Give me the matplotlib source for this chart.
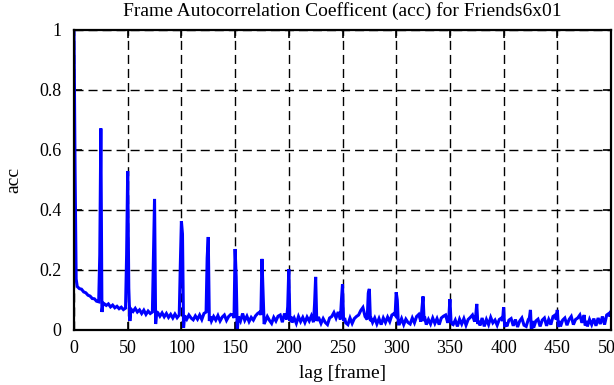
import matplotlib
matplotlib.use("Agg")
import matplotlib.pyplot as plt
from matplotlib.ticker import FuncFormatter

# ---- data ----
start_lags = [0, 1, 2]
start_acc = [1.0, 0.53, 0.17]

peak_lags = [25, 50, 75, 100, 125, 150, 175, 200, 225, 250,
             275, 300, 325, 350, 375, 400, 425, 450, 475]
peak_acc = [0.672, 0.53, 0.437, 0.363, 0.31, 0.27, 0.237, 0.203, 0.177, 0.153,
            0.137, 0.126, 0.112, 0.103, 0.087, 0.076, 0.067, 0.067, 0.05]
pre_acc = [0.25, 0.25, 0.255, 0.217, 0.24, 0.04, 0.05, 0.078, 0.087, 0.098,
           0.123, 0.05, 0.073, 0.04, 0.045, 0.03, 0.04, 0.035, 0.035]
post_acc = [0.06, 0.14, 0.02, 0.32, 0.03, 0.178, 0.128, 0.03, 0.03, 0.03,
            0.03, 0.1, 0.03, 0.03, 0.02, 0.01, -0.015, 0.01, 0.015]
post2_acc = [0.09, 0.03, 0.06, 0.007, 0.045, -0.005, 0.02, 0.045, 0.04, 0.04,
             0.035, 0.02, 0.035, 0.02, 0.03, 0.025, 0.03, 0.03, 0.03]

end_lags = [499, 500]
end_acc = [0.045, 0.061]

# baseline, every 2 frames from 25k+3 to 25k+23
baseline_acc = [
    [.145, .138, .136, .127, .124, .116, .113, .105, .104, .096, .094],
    [.088, .082, .087, .077, .083, .074, .079, .071, .076, .068, .073],
    [.07, .062, .072, .06, .067, .055, .066, .052, .063, .055, .06],
    [.058, .046, .057, .044, .055, .042, .052, .04, .053, .041, .05],
    [.048, .036, .05, .04, .034, .047, .036, .05, .035, .055, .06],
    [.03, .045, .033, .048, .03, .043, .05, .032, .045, .052, .05],
    [.045, .03, .055, .032, .046, .028, .042, .033, .047, .055, .06],
    [.028, .045, .032, .022, .042, .03, .046, .05, .026, .055, .035],
    [.025, .04, .022, .045, .028, .042, .025, .043, .03, .047, .026],
    [.04, .022, .038, .025, .018, .04, .045, .058, .04, .06, .035],
    [.024, .018, .04, .022, .038, .045, .05, .065, .075, .045, .035],
    [.025, .04, .02, .038, .018, .04, .025, .043, .028, .05, .055],
    [.02, .038, .018, .036, .025, .02, .04, .024, .045, .052, .028],
    [.018, .035, .02, .04, .022, .038, .018, .04, .046, .05, .024],
    [.018, .033, .012, .036, .02, .038, .016, .035, .042, .05, .028],
    [.015, .04, .012, .035, .018, .042, .024, .033, .016, .035, .04],
    [.012, .033, .038, .014, .035, .01, .03, .04, .016, .012, .035],
    [.008, .03, .036, .012, .033, .04, .014, .035, .018, .045, .05],
    [.012, .033, .04, .016, .035, .045, .018, .035, .04, .05, .024],
    [.012, .035, .018, .038, .014, .04, .02, .045, .018, .05, .055],
]

xticks = [0, 50, 100, 150, 200, 250, 300, 350, 400, 450, 500]
yticks = [0, 0.2, 0.4, 0.6, 0.8, 1.0]

# ---- assemble series ----
pts = list(zip(start_lags, start_acc))
for k, row in enumerate(baseline_acc):
    base = 25 * k
    for i, v in enumerate(row):
        pts.append((base + 3 + 2 * i, v))
for L, pk, pr, po, po2 in zip(peak_lags, peak_acc, pre_acc, post_acc, post2_acc):
    pts += [(L - 1, pr), (L, pk), (L + 1, po), (L + 2, po2)]
pts += list(zip(end_lags, end_acc))
pts.sort()
lag = [p[0] for p in pts]
acc = [p[1] for p in pts]

plt.rcParams['font.family'] = ['Liberation Serif', 'DejaVu Serif']

fig = plt.figure(figsize=(6.14, 3.85), dpi=100)
ax = fig.add_axes([74 / 614, 55 / 385, (611 - 74) / 614, 300 / 385])
ax.plot(lag, acc, color=(0, 0, 1), lw=2.2, zorder=3, solid_joinstyle='miter')

ax.set_xlim(0, 500)
ax.set_ylim(0, 1)
ax.set_xticks(xticks)
ax.set_yticks(yticks)
ax.yaxis.set_major_formatter(FuncFormatter(lambda v, p: f"{v:g}"))
ax.grid(True, color='black', linestyle=(0, (6.5, 3.6)), linewidth=1.0, zorder=1)
ax.tick_params(direction='in', length=6, width=1.2, top=True, right=True,
               labelsize=13, colors='black')
ax.tick_params(axis='x', pad=7)
ax.tick_params(axis='y', pad=9)
for s in ax.spines.values():
    s.set_linewidth(1.6)
    s.set_zorder(4)

ax.set_xlabel('lag [frame]', fontsize=14, labelpad=5)
ax.set_ylabel('acc', fontsize=14, labelpad=12)
ax.set_title('Frame Autocorrelation Coefficent (acc) for Friends6x01', fontsize=14, pad=10)

fig.savefig('out.png', dpi=100)
